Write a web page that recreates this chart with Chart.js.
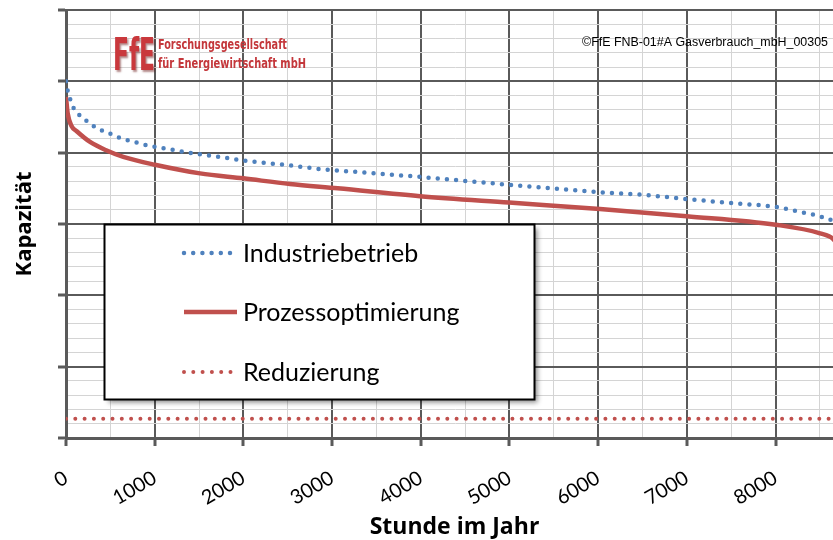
<!DOCTYPE html>
<html>
<head>
<meta charset="utf-8">
<script src="https://cdn.jsdelivr.net/npm/chart.js@4.4.1/dist/chart.umd.min.js"></script>
<style>
  html, body { margin: 0; padding: 0; background: #fff; overflow: hidden; }
  #wrap { width: 833px; height: 540px; overflow: hidden; }
</style>
</head>
<body>
<div id="wrap"><canvas id="myChart" width="843" height="540"></canvas></div>
<script>
// Stunden im Jahr (x) und Kapazität (y, ohne Einheit)
const industrieHours = [0, 19, 45, 76, 132, 200, 274, 357, 443, 530, 620, 770, 962, 1161, 1435, 1736, 1999, 2300, 2601, 2864, 3063, 3991, 4994, 6077, 6490, 6998, 7523, 8001, 8275, 8463, 8650, 8760];
const industrieValues = [5.00, 4.87, 4.76, 4.65, 4.55, 4.48, 4.40, 4.34, 4.29, 4.25, 4.20, 4.15, 4.09, 4.05, 3.99, 3.94, 3.89, 3.85, 3.81, 3.77, 3.75, 3.66, 3.55, 3.44, 3.41, 3.35, 3.29, 3.24, 3.17, 3.12, 3.04, 2.95];

const prozessHours = [0, 19, 64, 121, 271, 459, 646, 1003, 1511, 1999, 2525, 3063, 3991, 4994, 6020, 6998, 8001, 8501, 8650, 8760];
const prozessValues = [4.78, 4.55, 4.37, 4.30, 4.15, 4.03, 3.94, 3.83, 3.71, 3.64, 3.56, 3.50, 3.39, 3.30, 3.21, 3.11, 2.99, 2.87, 2.79, 2.60];

const reduzHours = [0, 8760];
const reduzValues = [0.27, 0.27];

const seriesLabels = ['Industriebetrieb', 'Prozessoptimierung', 'Reduzierung'];
const xTickLabels = ['0', '1000', '2000', '3000', '4000', '5000', '6000', '7000', '8000'];

const blue = '#4f81bd';
const red = '#c0504d';
const majorGrid = '#5a5a5a';
const minorGrid = '#d4d4d4';

function toPoints(xs, ys) {
  return xs.map((x, i) => ({ x: x, y: ys[i] }));
}

function isMajorY(v) { return Math.abs(v - Math.round(v)) < 1e-6; }
function isMajorX(v) { return v % 1000 === 0; }

// Legende + Logo + Copyright
const decoPlugin = {
  id: 'deco',
  afterDraw(chart) {
    const ctx = chart.ctx;
    ctx.save();

    // Logo
    ctx.save();
    ctx.fillStyle = '#c9383c';
    ctx.shadowColor = 'rgba(90,0,0,0.45)';
    ctx.shadowOffsetX = 1.5;
    ctx.shadowOffsetY = 1.5;
    ctx.shadowBlur = 2;
    ctx.font = 'bold 45px "DejaVu Sans", "Liberation Sans"';
    ctx.textBaseline = 'alphabetic';
    ctx.fillText('FfE', 113, 70, 42);
    ctx.restore();

    ctx.fillStyle = '#c4373b';
    ctx.font = 'bold 14px "Liberation Sans Narrow", "DejaVu Sans Condensed", "Liberation Sans"';
    ctx.fillText('Forschungsgesellschaft', 158, 49, 129);
    ctx.fillText('für Energiewirtschaft mbH', 158, 68, 148);

    // Copyright
    ctx.fillStyle = '#000';
    ctx.font = '12.5px "Liberation Sans", Arial';
    ctx.textBaseline = 'middle';
    ctx.fillText('©FfE FNB-01#A Gasverbrauch_mbH_00305', 582, 43, 246);

    // Legendenrahmen
    const bx = 104.5, by = 224.5, bw = 430, bh = 175;
    ctx.save();
    ctx.shadowColor = 'rgba(0,0,0,0.45)';
    ctx.shadowOffsetX = 3;
    ctx.shadowOffsetY = 3;
    ctx.shadowBlur = 5;
    ctx.fillStyle = '#fff';
    ctx.fillRect(bx, by, bw, bh);
    ctx.restore();
    ctx.strokeStyle = '#000';
    ctx.lineWidth = 2;
    ctx.strokeRect(bx, by, bw, bh);

    const rowsY = [253, 312, 372];
    chart.data.datasets.forEach((ds, i) => {
      const y = rowsY[i];
      ctx.save();
      ctx.strokeStyle = ds.borderColor;
      ctx.lineWidth = ds.borderWidth;
      ctx.lineCap = ds.borderCapStyle || 'butt';
      ctx.setLineDash(ds.borderDash || []);
      ctx.beginPath();
      ctx.moveTo(184, y);
      ctx.lineTo(ds.borderDash && ds.borderDash.length ? 231 : 237, y);
      ctx.stroke();
      ctx.restore();

      ctx.fillStyle = '#000';
      ctx.font = '25px Lato';
      ctx.textBaseline = 'middle';
      ctx.fillText(ds.label, 243, y + 1);
    });

    ctx.restore();
  }
};

const ctx = document.getElementById('myChart').getContext('2d');
const myChart = new Chart(ctx, {
  type: 'line',
  data: {
    datasets: [
      {
        label: seriesLabels[0],
        data: toPoints(industrieHours, industrieValues),
        borderColor: blue,
        borderWidth: 4.5,
        borderDash: [0, 9.2],
        borderCapStyle: 'round',
        cubicInterpolationMode: 'monotone',
        pointRadius: 0,
        fill: false
      },
      {
        label: seriesLabels[1],
        data: toPoints(prozessHours, prozessValues),
        borderColor: red,
        borderWidth: 4.5,
        borderCapStyle: 'butt',
        cubicInterpolationMode: 'monotone',
        pointRadius: 0,
        fill: false
      },
      {
        label: seriesLabels[2],
        data: toPoints(reduzHours, reduzValues),
        borderColor: red,
        borderWidth: 4,
        borderDash: [0, 9.3],
        borderCapStyle: 'round',
        pointRadius: 0,
        fill: false
      }
    ]
  },
  options: {
    responsive: false,
    animation: false,
    layout: { padding: { top: 10, left: 0, right: 0, bottom: 0 } },
    plugins: {
      legend: { display: false },
      tooltip: { enabled: false }
    },
    scales: {
      x: {
        type: 'linear',
        min: 0,
        max: 8760,
        afterFit(scale) {
          scale.height = 102;
          // keine Zusatzabstände durch gedrehte Beschriftung
          scale.paddingLeft = 0;
          scale.paddingRight = 0;
        },
        afterBuildTicks(scale) {
          // Haupt- (1000) und Hilfslinien (500)
          const t = [];
          for (let v = 0; v <= scale.max; v += 500) t.push({ value: v });
          scale.ticks = t;
        },
        border: { color: majorGrid, width: 3 },
        grid: {
          color: c => isMajorX(c.tick.value) ? majorGrid : minorGrid,
          lineWidth: c => isMajorX(c.tick.value) ? 2 : 1,
          tickColor: c => isMajorX(c.tick.value) ? majorGrid : 'rgba(0,0,0,0)',
          tickLength: 8,
          tickWidth: 3
        },
        ticks: {
          autoSkip: false,
          minRotation: 30,
          maxRotation: 30,
          padding: 20,
          color: '#000',
          font: { family: 'Lato', size: 20 },
          callback: v => isMajorX(v) ? xTickLabels[v / 1000] : ''
        },
        title: {
          display: true,
          text: 'Stunde im Jahr',
          color: '#000',
          font: { family: 'Open Sans', size: 23, weight: 'bold', lineHeight: 1 },
          padding: { top: 0, bottom: 1 }
        }
      },
      y: {
        min: 0,
        max: 6,
        afterFit(scale) { scale.width = 66; },
        border: { color: majorGrid, width: 3 },
        grid: {
          color: c => isMajorY(c.tick.value) ? majorGrid : minorGrid,
          lineWidth: c => isMajorY(c.tick.value) ? 2 : 1,
          tickColor: c => isMajorY(c.tick.value) ? majorGrid : 'rgba(0,0,0,0)',
          tickLength: 8,
          tickWidth: 3
        },
        ticks: {
          stepSize: 0.2,
          display: false
        },
        title: {
          display: true,
          text: 'Kapazität',
          color: '#000',
          font: { family: 'Open Sans', size: 22, weight: 'bold', lineHeight: 1 },
          padding: { top: 14, bottom: 0 }
        }
      }
    }
  },
  plugins: [decoPlugin]
});
</script>
</body>
</html>
